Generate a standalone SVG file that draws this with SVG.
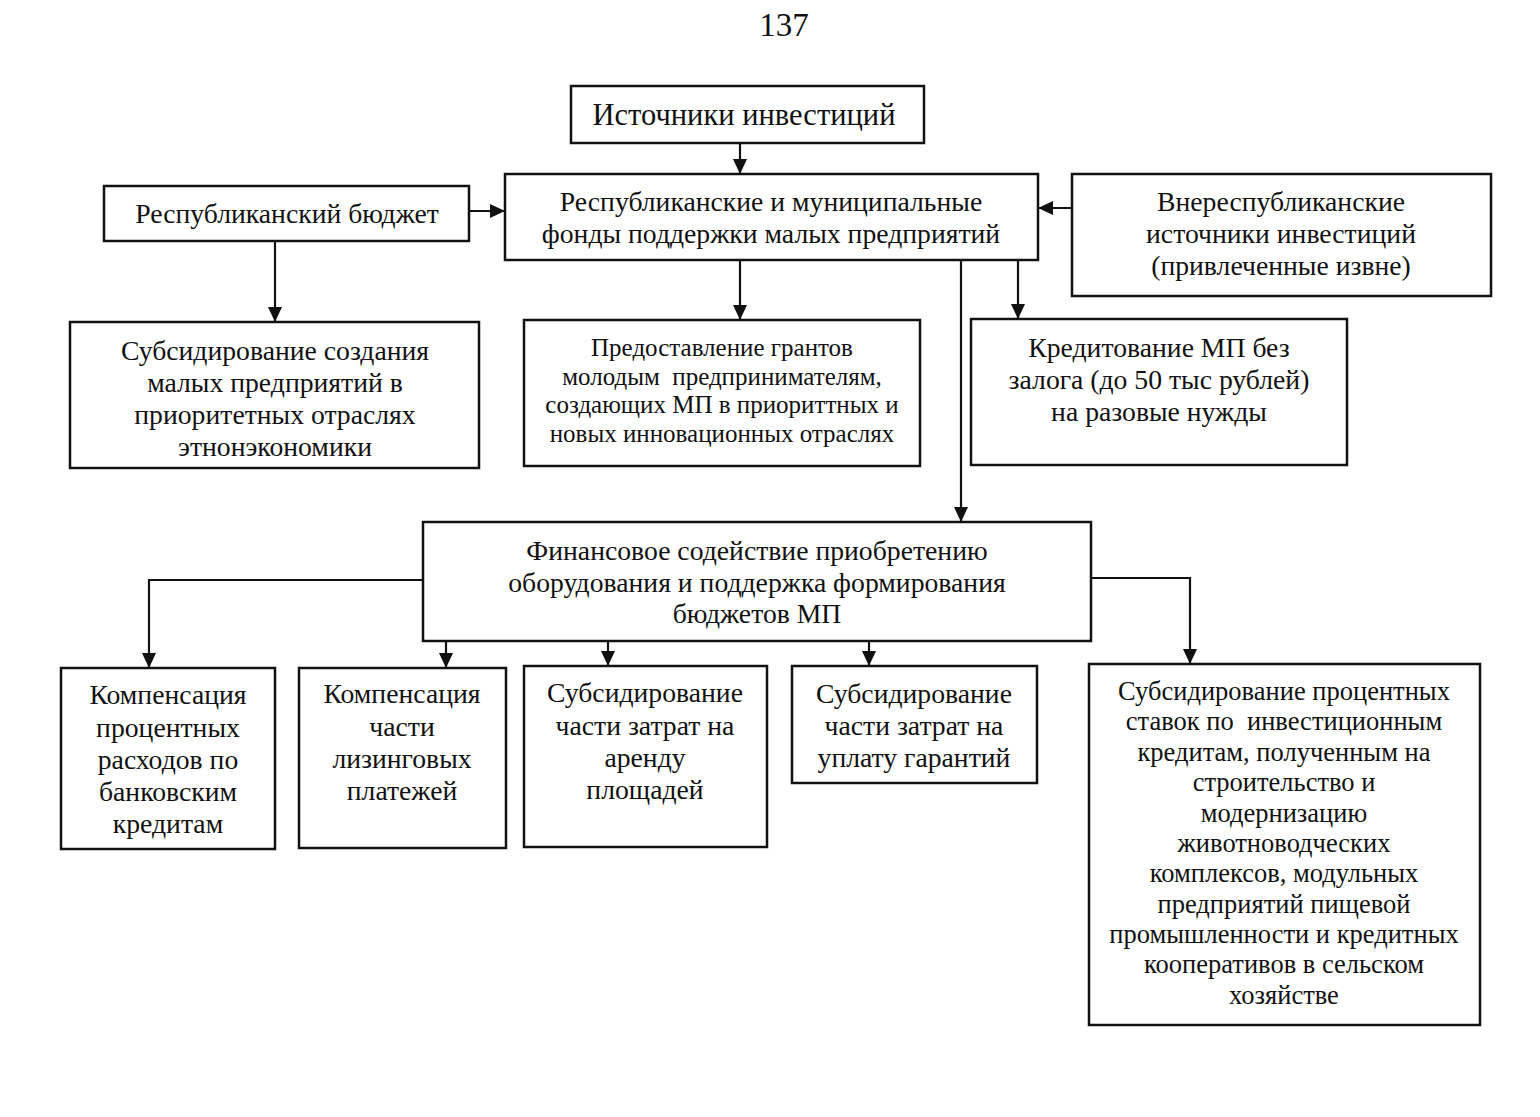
<svg xmlns="http://www.w3.org/2000/svg" width="1540" height="1117" viewBox="0 0 1540 1117">
<style>
.box{fill:#fff;stroke:#111;stroke-width:2.5}
text{font-family:"Liberation Serif","Times New Roman",serif;fill:#111;text-anchor:middle}
.t24{font-size:27.7px}
.t23{font-size:26.5px}
.t21{font-size:25px}
.t28{font-size:30.5px}
.ln{fill:none;stroke:#111;stroke-width:2.2}
</style>
<defs>
<marker id="ar" markerUnits="userSpaceOnUse" markerWidth="16" markerHeight="14" refX="15" refY="7" orient="auto">
<path d="M0,0 L15,7 L0,14 Z" fill="#111"/>
</marker>
</defs>
<rect width="1540" height="1117" fill="#fff"/>
<text x="784" y="36" style="font-size:33px">137</text>

<g id="connectors">
<line class="ln" x1="740" y1="143" x2="740" y2="174" marker-end="url(#ar)"/>
<line class="ln" x1="469" y1="211" x2="505" y2="211" marker-end="url(#ar)"/>
<line class="ln" x1="1072" y1="208" x2="1038" y2="208" marker-end="url(#ar)"/>
<line class="ln" x1="275" y1="241" x2="275" y2="322" marker-end="url(#ar)"/>
<line class="ln" x1="740" y1="260" x2="740" y2="320" marker-end="url(#ar)"/>
<line class="ln" x1="1018" y1="260" x2="1018" y2="319" marker-end="url(#ar)"/>
<line class="ln" x1="961" y1="260" x2="961" y2="522" marker-end="url(#ar)"/>
<polyline class="ln" points="423,580 149,580 149,668" marker-end="url(#ar)"/>
<line class="ln" x1="446" y1="641" x2="446" y2="668" marker-end="url(#ar)"/>
<line class="ln" x1="608" y1="641" x2="608" y2="666" marker-end="url(#ar)"/>
<line class="ln" x1="869" y1="641" x2="869" y2="666" marker-end="url(#ar)"/>
<polyline class="ln" points="1091,578 1190,578 1190,664" marker-end="url(#ar)"/>
</g>

<g id="sources">
<rect class="box" x="571" y="86" width="353" height="57"/>
<text x="744" y="125" class="t28">Источники инвестиций</text>
</g>

<g id="budget">
<rect class="box" x="104" y="186" width="365" height="55"/>
<text x="287" y="223" class="t24">Республиканский бюджет</text>
</g>

<g id="funds">
<rect class="box" x="505" y="174" width="533" height="86"/>
<text x="771" y="211" class="t24">Республиканские и муниципальные</text>
<text x="771" y="243" class="t24">фонды поддержки малых предприятий</text>
</g>

<g id="external">
<rect class="box" x="1072" y="174" width="419" height="122"/>
<text x="1281" y="211" class="t24">Внереспубликанские</text>
<text x="1281" y="243" class="t24">источники инвестиций</text>
<text x="1281" y="275" class="t24">(привлеченные извне)</text>
</g>

<g id="subsidy-creation">
<rect class="box" x="70" y="322" width="409" height="146"/>
<text x="275" y="360" class="t24">Субсидирование создания</text>
<text x="275" y="392" class="t24">малых предприятий в</text>
<text x="275" y="424" class="t24">приоритетных отраслях</text>
<text x="275" y="456" class="t24">этнонэкономики</text>
</g>

<g id="grants">
<rect class="box" x="524" y="320" width="396" height="146"/>
<text x="722" y="356" class="t21">Предоставление грантов</text>
<text x="722" y="385" class="t21" xml:space="preserve">молодым  предпринимателям,</text>
<text x="722" y="413" class="t21">создающих МП в приориттных и</text>
<text x="722" y="442" class="t21">новых инновационных отраслях</text>
</g>

<g id="credit">
<rect class="box" x="971" y="319" width="376" height="146"/>
<text x="1159" y="357" class="t24">Кредитование МП без</text>
<text x="1159" y="389" class="t24">залога (до 50 тыс рублей)</text>
<text x="1159" y="421" class="t24">на разовые нужды</text>
</g>

<g id="financial">
<rect class="box" x="423" y="522" width="668" height="119"/>
<text x="757" y="560" class="t24">Финансовое содействие приобретению</text>
<text x="757" y="592" class="t24">оборудования и поддержка формирования</text>
<text x="757" y="623" class="t24">бюджетов МП</text>
</g>

<g id="comp-interest">
<rect class="box" x="61" y="668" width="214" height="181"/>
<text x="168" y="704" class="t24">Компенсация</text>
<text x="168" y="737" class="t24">процентных</text>
<text x="168" y="769" class="t24">расходов по</text>
<text x="168" y="801" class="t24">банковским</text>
<text x="168" y="833" class="t24">кредитам</text>
</g>

<g id="comp-leasing">
<rect class="box" x="299" y="668" width="207" height="180"/>
<text x="402" y="703" class="t24">Компенсация</text>
<text x="402" y="736" class="t24">части</text>
<text x="402" y="768" class="t24">лизинговых</text>
<text x="402" y="800" class="t24">платежей</text>
</g>

<g id="sub-rent">
<rect class="box" x="524" y="666" width="243" height="181"/>
<text x="645" y="702" class="t24">Субсидирование</text>
<text x="645" y="735" class="t24">части затрат на</text>
<text x="645" y="767" class="t24">аренду</text>
<text x="645" y="799" class="t24">площадей</text>
</g>

<g id="sub-guarantee">
<rect class="box" x="792" y="666" width="245" height="117"/>
<text x="914" y="703" class="t24">Субсидирование</text>
<text x="914" y="735" class="t24">части затрат на</text>
<text x="914" y="767" class="t24">уплату гарантий</text>
</g>

<g id="sub-rates">
<rect class="box" x="1089" y="664" width="391" height="361"/>
<text x="1284" y="700" class="t23">Субсидирование процентных</text>
<text x="1284" y="730" class="t23" xml:space="preserve">ставок по  инвестиционным</text>
<text x="1284" y="761" class="t23">кредитам, полученным на</text>
<text x="1284" y="791" class="t23">строительство и</text>
<text x="1284" y="822" class="t23">модернизацию</text>
<text x="1284" y="852" class="t23">животноводческих</text>
<text x="1284" y="882" class="t23">комплексов, модульных</text>
<text x="1284" y="913" class="t23">предприятий пищевой</text>
<text x="1284" y="943" class="t23">промышленности и кредитных</text>
<text x="1284" y="973" class="t23">кооперативов в сельском</text>
<text x="1284" y="1004" class="t23">хозяйстве</text>
</g>
</svg>
